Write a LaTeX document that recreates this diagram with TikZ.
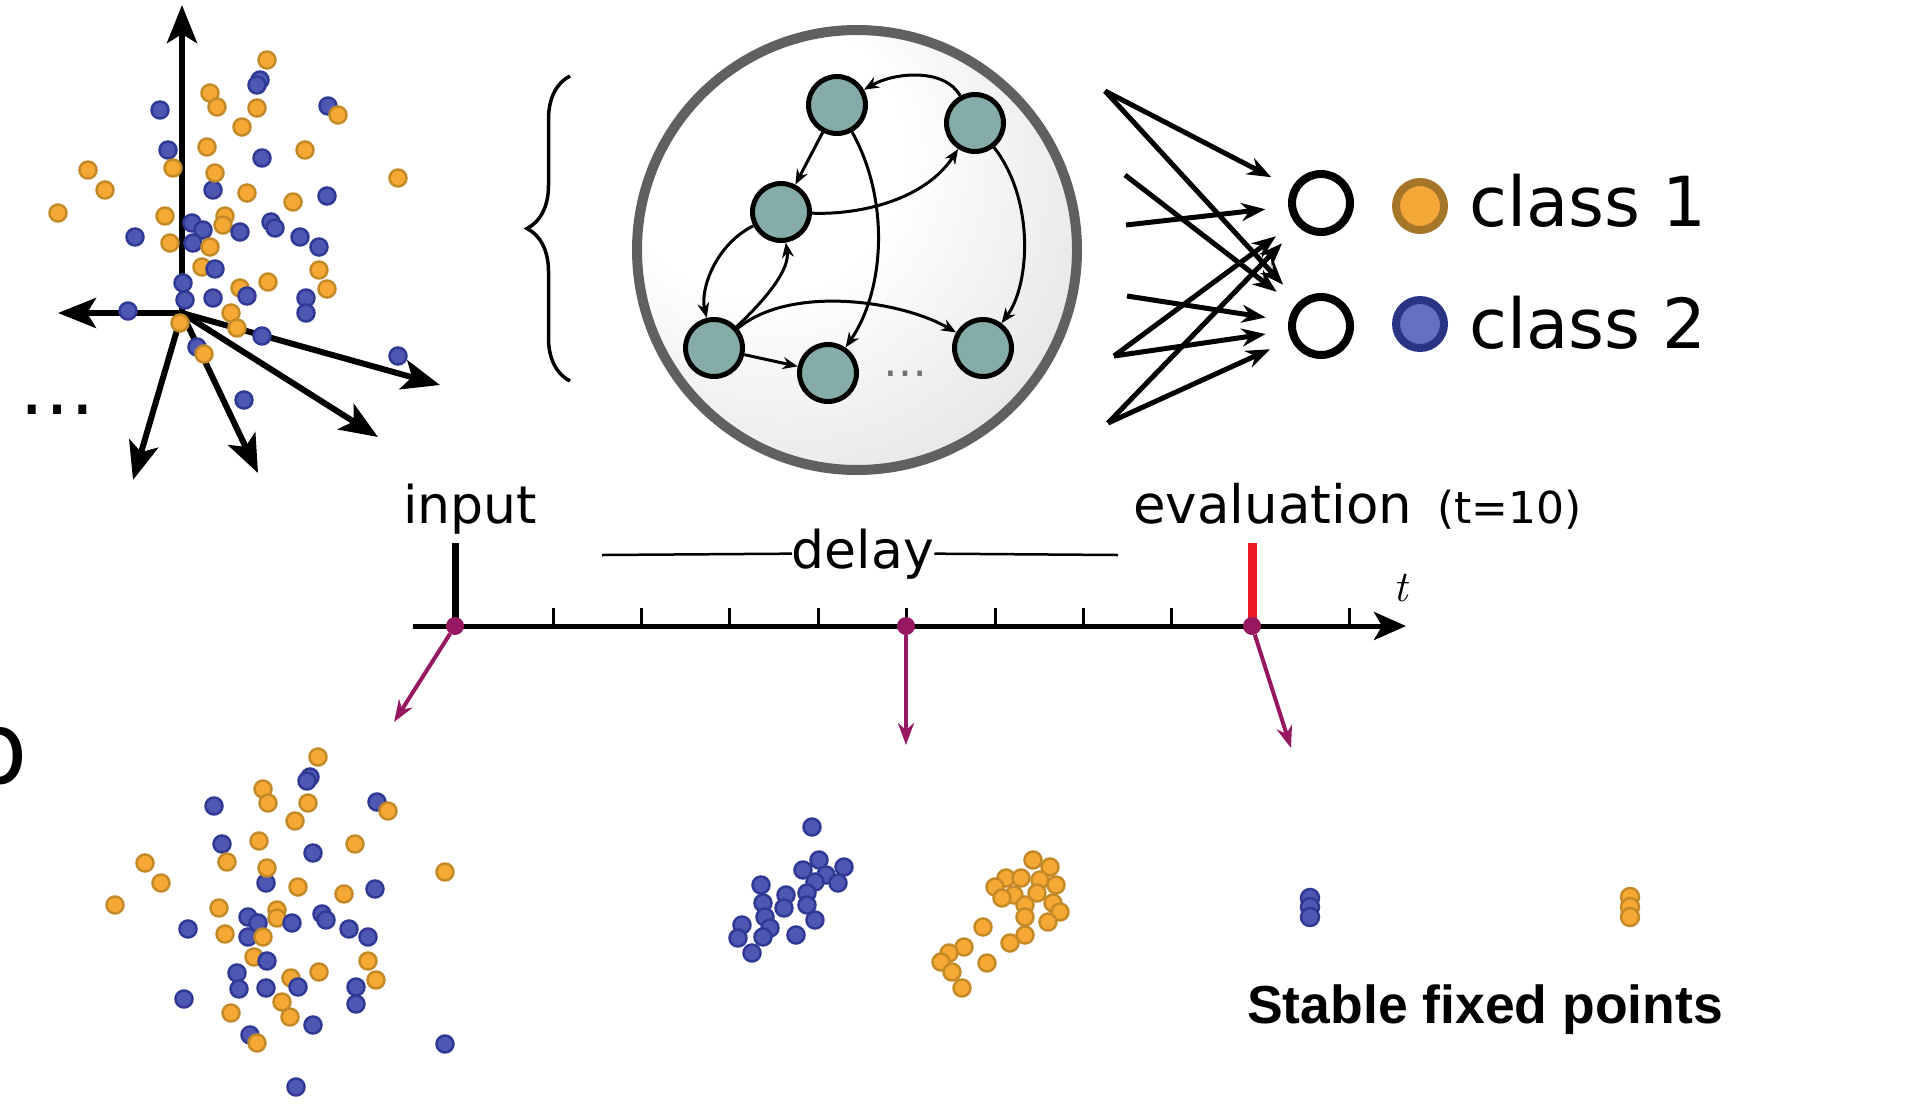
\documentclass[tikz,border=0pt]{standalone}
\usepackage{fontspec}
\setmainfont{DejaVu Sans}
\newfontfamily\boldsans{Liberation Sans}
\newfontfamily\lmserif{Latin Modern Roman}
\usepackage{tikz}
\usetikzlibrary{arrows.meta,positioning,decorations.pathreplacing,shapes}
\definecolor{ofill}{RGB}{245,168,52}
\definecolor{oline}{RGB}{196,138,40}
\definecolor{bfill}{RGB}{78,88,178}
\definecolor{bline}{RGB}{48,58,148}
\definecolor{legofill}{RGB}{244,168,56}
\definecolor{legoline}{RGB}{166,118,40}
\definecolor{legbfill}{RGB}{102,112,192}
\definecolor{legbline}{RGB}{42,52,132}
\definecolor{unitteal}{RGB}{133,172,168}
\definecolor{ringgray}{RGB}{96,96,96}
\definecolor{probepink}{RGB}{150,24,96}
\definecolor{evalred}{RGB}{237,28,36}
\pgfdeclareradialshading{glass}{\pgfpoint{-14bp}{14bp}}{color(0bp)=(white); color(16bp)=(white); color(60bp)=(black!21); color(72bp)=(black!21)}
\newcommand{\fsz}[1]{\fontsize{#1pt}{#1pt}\selectfont}

\begin{document}
\begin{tikzpicture}[
    x=1pt, y=-1pt,
    every node/.style={inner sep=0pt},
    unit/.style={circle, draw=black, line width=5pt, fill=unitteal, minimum size=57pt},
    readout/.style={circle, draw=black, line width=8pt, minimum size=58pt, outer sep=27pt},
    legdot/.style={circle, line width=8pt, minimum size=48pt},
    link/.style={line width=3pt, -{Stealth[length=15pt,width=12pt]}},
    wire/.style={line width=5pt, -{Stealth[length=24pt,width=18pt]}},
    basis/.style={line width=6pt, -{Stealth[length=38pt,width=30pt,inset=9pt]}},
    probe/.style={line width=4pt, draw=probepink, -{Stealth[length=22pt,width=16pt]}},
    probedot/.style={circle, fill=probepink, minimum size=18pt},
    txt/.style={anchor=base west}
]
\useasboundingbox (0,0) rectangle (1918,1114);

% Panel letter (cut at the edge)
\node[anchor=base east, font=\fsz{100}] (panelb) at (28,783) {b};

% Input space: basis vectors
\coordinate (ax) at (182,313);
\coordinate (a1) at (182,5);
\coordinate (a2) at (58,313);
\coordinate (a3) at (440,385);
\coordinate (a4) at (378,437);
\coordinate (a5) at (258,473);
\coordinate (a6) at (133,480);
\foreach \a in {a1,a2,a3,a4,a5,a6}
  \draw[basis] (ax) -- (\a);
\node[anchor=base, font=\fsz{76}] (more) at (57,414) {…};

% Input samples
\foreach \x/\y/\cl in {267/60/o,260/80/b,257/85/b,210/93/o,217/107/o,257/108/o,242/127/o,
  160/110/b,328/106/b,338/115/o,168/150/b,207/147/o,305/150/o,262/158/b,88/170/o,173/168/o,
  398/178/o,105/190/o,213/190/b,215/173/o,247/193/o,293/202/o,327/196/b,58/213/o,165/216/o,
  225/216/o,223/225/o,192/223/b,203/230/b,240/232/b,271/222/b,275/228/b,135/237/b,170/243/o,
  193/243/b,210/247/o,300/237/b,319/247/b,202/267/o,215/269/b,319/270/o,268/282/o,327/289/o,
  183/283/b,240/288/o,185/300/b,213/298/b,247/296/b,306/298/b,306/313/b,128/311/b,180/323/o,
  231/313/o,237/328/o,262/336/b,197/347/b,204/354/o,398/356/b,244/400/b}
  \filldraw[fill=\cl fill, draw=\cl line, line width=2.5pt] (\x,\y) circle (8.5pt);

% Reservoir
\node[circle, draw=ringgray, line width=10pt, minimum size=440pt, shading=glass] (res) at (857,250) {};
\draw[line width=3.5pt, decorate, decoration={brace, amplitude=43pt}] (570,381) -- (570,76);

\node[unit] (n1) at (837,105) {};
\node[unit] (n2) at (975,123) {};
\node[unit] (n3) at (781,212) {};
\node[unit] (n4) at (714,348) {};
\node[unit] (n5) at (828,373) {};
\node[unit] (n6) at (983,348) {};
\node[anchor=base, font=\fsz{44}, text=black!55] (etc) at (905,376) {…};

\draw[link] (n2) .. controls (945,68) and (895,72) .. (n1);
\draw[link] (n1) -- (n3);
\draw[link] (n3) .. controls (860,215) and (925,200) .. (n2);
\draw[link] (n1) .. controls (890,200) and (885,290) .. (n5);
\draw[link] (n2) .. controls (1035,200) and (1030,285) .. (n6);
\draw[link] (n3) .. controls (715,245) and (700,290) .. (n4);
\draw[link] (n4) .. controls (765,300) and (790,270) .. (n3);
\draw[link] (n4) .. controls (790,285) and (900,300) .. (n6);
\draw[link] (n4) -- (n5);

% Readout
\node[readout] (o1) at (1321,203) {};
\node[readout] (o2) at (1321,326) {};
\coordinate (s1) at (1105,91);
\coordinate (s2) at (1125,175);
\coordinate (s3) at (1126,225);
\coordinate (s4) at (1127,296);
\coordinate (s5) at (1114,356);
\coordinate (s6) at (1108,423);
\foreach \s/\o in {s1/o1,s1/o2,s2/o2,s3/o1,s4/o2,s5/o1,s5/o2,s6/o1,s6/o2}
  \draw[wire] (\s) -- (\o);

\node[legdot, fill=legofill, draw=legoline] (leg1) at (1420,206) {};
\node[legdot, fill=legbfill, draw=legbline] (leg2) at (1420,324) {};
\node[txt, font=\fsz{69}] (c1) at (1469,226) {class 1};
\node[txt, font=\fsz{69}] (c2) at (1469,348) {class 2};

% Time line
\node[txt, font=\fsz{52}] (inp) at (403,523) {input};
\node[txt, font=\fsz{53}] (evl) at (1133,523) {evaluation};
\node[txt, font=\fsz{44}] (tten) at (1437,523) {(t=10)};
\node[anchor=base, font=\fsz{52}] (dly) at (863,568) {delay};
\draw[line width=2.5pt] (602,555) -- (dly.west);
\draw[line width=2.5pt] (dly.east) -- (1118,555);

\coordinate (t0) at (413,626);
\coordinate (tend) at (1406,626);
\draw[line width=5pt, -{Stealth[length=32pt,width=28pt,inset=8pt]}] (t0) -- (tend);
\foreach \k in {1,...,8}
  \draw[line width=3pt] (464.6+88.4*\k,608) -- (464.6+88.4*\k,626);
\draw[line width=3pt] (1349,608) -- (1349,626);
\draw[line width=7pt] (455,543) -- (455,626);
\draw[line width=9pt, evalred] (1252,543) -- (1252,626);
\node[font=\lmserif\itshape\fsz{44}] (tlab) at (1401,588) {t};

\node[probedot] (d0) at (455,626) {};
\node[probedot] (d5) at (906,626) {};
\node[probedot] (d9) at (1252,626) {};
\coordinate (p0) at (394,722);
\coordinate (p5) at (906,745);
\coordinate (p9) at (1291,748);
\draw[probe] (d0) -- (p0);
\draw[probe] (d5) -- (p5);
\draw[probe] (d9) -- (p9);

% State at input
\foreach \x/\y/\cl in {318/757/o,310/777/b,307/781/b,263/789/o,268/803/o,308/803/o,295/821/o,
  214/806/b,377/802/b,388/811/o,222/844/b,259/841/o,355/844/o,313/853/b,145/863/o,227/862/o,
  445/872/o,161/883/o,266/883/b,267/868/o,298/887/o,344/894/o,375/889/b,115/905/o,219/908/o,
  248/917/b,277/910/o,277/918/o,258/923/b,292/923/b,322/914/b,326/920/b,188/929/b,225/934/o,
  248/937/b,263/937/o,349/929/b,368/937/b,254/957/o,267/961/b,368/961/o,319/972/o,376/980/o,
  237/973/b,291/978/o,239/989/b,266/988/b,298/987/b,356/987/b,356/1004/b,184/999/b,231/1013/o,
  282/1002/o,290/1017/o,313/1025/b,250/1035/b,257/1043/o,445/1044/b,296/1087/b}
  \filldraw[fill=\cl fill, draw=\cl line, line width=2.5pt] (\x,\y) circle (8.5pt);

% State during the delay
\foreach \x/\y in {812/827,819/860,844/867,803/870,826/875,838/883,815/882,761/885,786/895,
  807/893,763/903,807/905,784/908,815/920,765/917,742/925,770/928,796/935,738/938,763/937,752/953}
  \filldraw[fill=bfill, draw=bline, line width=2.5pt] (\x,\y) circle (8.5pt);
\foreach \x/\y in {1033/860,1050/867,1006/878,1021/878,995/887,1040/880,1056/885,1014/895,
  1037/893,1002/898,1053/903,1025/905,1060/912,1025/917,1048/922,983/927,1025/935,1010/943,
  964/947,949/953,987/963,941/962,952/972,962/988}
  \filldraw[fill=ofill, draw=oline, line width=2.5pt] (\x,\y) circle (8.5pt);

% State at evaluation
\foreach \y in {898,907,917}
  \filldraw[fill=bfill, draw=bline, line width=2.5pt] (1310,\y) circle (9pt);
\foreach \y in {897,907,917}
  \filldraw[fill=ofill, draw=oline, line width=2.5pt] (1630,\y) circle (9pt);
\node[anchor=base, font=\boldsans\bfseries\fsz{53.5}] (stable) at (1485,1023) {Stable fixed points};

\end{tikzpicture}
\end{document}
